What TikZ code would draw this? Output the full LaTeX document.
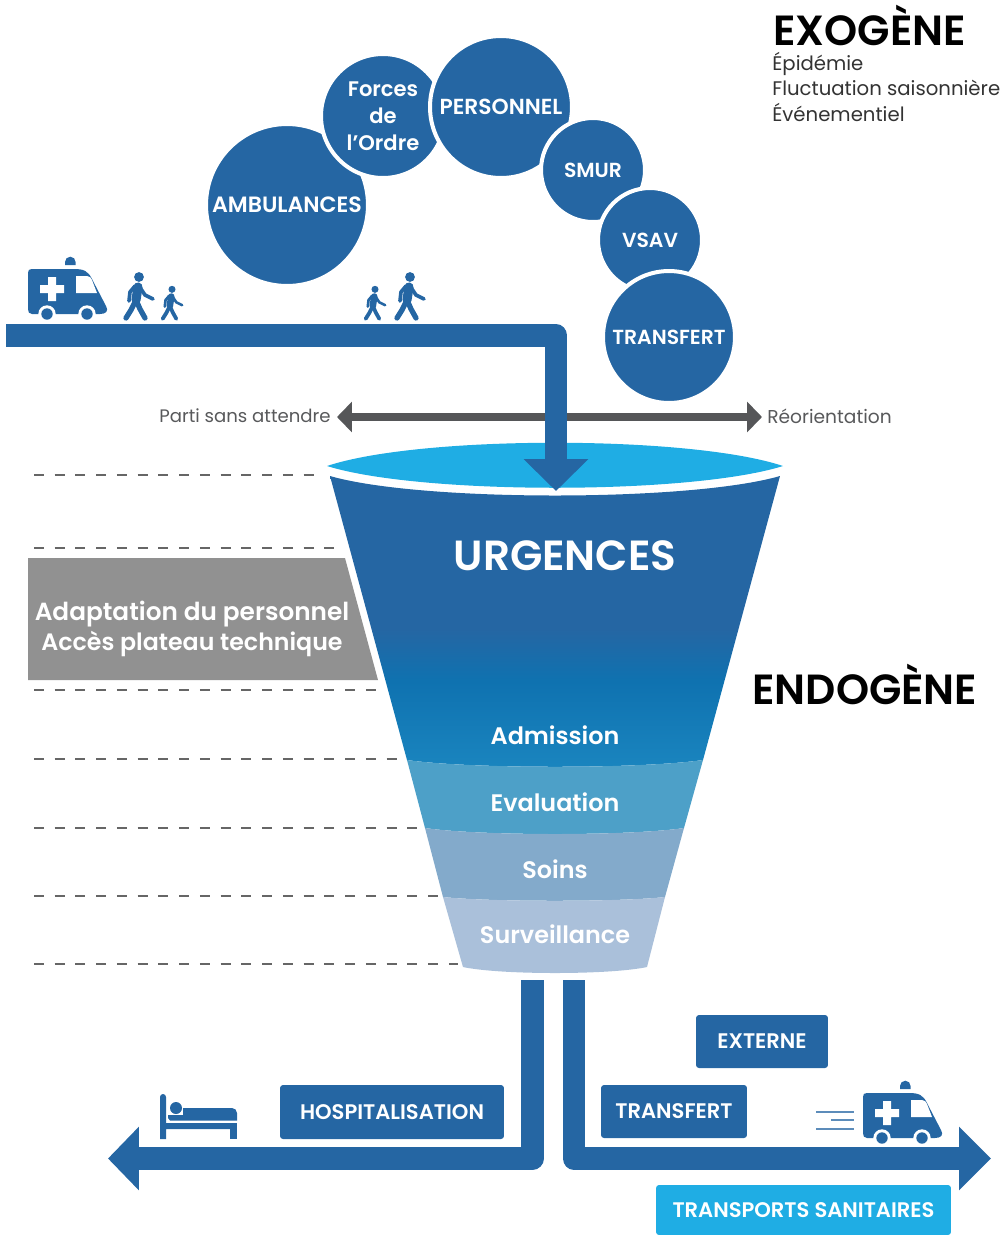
\documentclass[tikz,border=0pt]{standalone}
\usepackage{fontspec}
\setmainfont{Poppins}[BoldFont={Poppins SemiBold}]
\usetikzlibrary{arrows.meta}
\definecolor{fluxblue}{HTML}{2566A3}
\definecolor{lakeblue}{HTML}{1FADE4}
\definecolor{arrowgrey}{HTML}{555658}
\definecolor{textgrey}{HTML}{58595B}
\definecolor{admitblue}{HTML}{1A85BF}
\definecolor{midblue}{HTML}{0F72B0}
\definecolor{evalblue}{HTML}{4DA0C8}
\definecolor{soinsblue}{HTML}{83AACB}
\definecolor{survblue}{HTML}{AAC0DA}
\pgfdeclareverticalshading{urgshade}{100bp}{
    color(0bp)=(admitblue);
    color(25bp)=(admitblue);
    color(40bp)=(midblue);
    color(49bp)=(fluxblue);
    color(75bp)=(fluxblue);
    color(100bp)=(fluxblue)}
\newcommand{\walker}[3]{
    \begin{scope}[shift={(#1,#2)},scale=#3,fluxblue,line cap=round,line join=round]
        \fill (0,-44) circle (4.9);
        \draw[line width=#3*5.2pt] (-1,-34) -- (-3,-21);
        \draw[line width=#3*3pt] (-3,-21) -- (-8,-11) -- (-13,-3);
        \draw[line width=#3*3pt] (-3,-21) -- (1,-12) -- (6,-3);
        \draw[line width=#3*2.1pt] (-4,-35) -- (-9,-29) -- (-10,-20);
        \draw[line width=#3*2.1pt] (0,-35) -- (6,-26) -- (14,-22);
    \end{scope}}
\newcommand{\ambulance}[2]{
    \begin{scope}[shift={(#1,#2)}]
        \fill[fluxblue] (37,-4) -- (37,-7) arc (180:360:5.3) -- (47.6,-4) -- cycle;
        \fill[fluxblue] (4,0) -- (46,0) .. controls (56,0) and (60,2) .. (64,10)
            -- (78,37) .. controls (81,42) and (78,45) .. (72,45)
            -- (4,45) .. controls (1,45) and (0,43) .. (0,40) -- (0,4) .. controls (0,1) and (1,0) .. (4,0) -- cycle;
        \fill[white] (48,7) -- (59,7) .. controls (62,7) and (63,9) .. (64,11) -- (69,24) -- (48,24) -- cycle;
        \fill[white] (20,8) rectangle (28,32) (12,16) rectangle (36,24);
        \foreach \wx in {19,59} {
            \fill[white] (\wx,45) circle (8.7);
            \fill[fluxblue] (\wx,45) circle (5.7);
        }
    \end{scope}}
\begin{document}
\begin{tikzpicture}[x=0.02cm,y=-0.02cm,
        bubble/.style = {circle,
            fill=fluxblue,
            draw=white,
            line width=0.08cm,
            inner sep=0pt,
            text=white,
            align=center,
            font=\bfseries\fontsize{11.6}{15.4}\selectfont
        },
        tagbox/.style = {rectangle,
            rounded corners=0.06cm,
            fill=fluxblue,
            text=white,
            inner sep=0pt,
            font=\bfseries\fontsize{12}{14}\selectfont
        },
        stage/.style = {text=white,
            font=\bfseries\fontsize{13.6}{16}\selectfont
        },
        sidetext/.style = {anchor=west,
            inner sep=0pt,
            text=textgrey,
            font=\fontsize{10.6}{13}\selectfont
        },
        flux/.style = {draw=fluxblue,
            line width=0.45cm,
            line join=round
        },
        lead/.style = {draw=black!60,
            line width=0.7pt,
            dash pattern=on 0.2cm off 0.215cm
        }]

    \useasboundingbox (0,0) rectangle (1007,1235);

    % Bubbles
    \node [bubble, minimum size=3.24cm, font=\bfseries\fontsize{12.6}{15}\selectfont] (ambulances) at (287,205) {AMBULANCES};
    \node [bubble, minimum size=2.48cm, font=\bfseries\fontsize{12}{15.4}\selectfont] (forces) at (383,116) {Forces\\de\\l’Ordre};
    \node [bubble, minimum size=2.84cm, font=\bfseries\fontsize{12.4}{15}\selectfont] (personnel) at (501,107) {PERSONNEL};
    \node [bubble, minimum size=2.08cm] (smur) at (593,170) {SMUR};
    \node [bubble, minimum size=2.08cm] (vsav) at (650,240) {VSAV};
    \node [bubble, minimum size=2.64cm] (transfertIn) at (669,337) {TRANSFERT};

    % Exogene text
    \node [anchor=west, inner sep=0pt, font=\bfseries\fontsize{24}{26}\selectfont] (exogene) at (773,25) {EXOGÈNE};
    \node [sidetext, text=black!80, font=\fontsize{11.2}{13}\selectfont] (epidemie) at (772,64) {Épidémie};
    \node [sidetext, text=black!80, font=\fontsize{11.2}{13}\selectfont] (fluctuation) at (772,88) {Fluctuation saisonnière};
    \node [sidetext, text=black!80, font=\fontsize{11.2}{13}\selectfont] (evenement) at (772,112) {Événementiel};

    % Arrival road
    \ambulance{28}{269}
    \walker{139}{321}{1}
    \walker{172}{321}{0.72}
    \walker{375}{321}{0.72}
    \walker{410}{321}{1}

    % Leaving sideways
    \node [sidetext, anchor=east, font=\fontsize{10.3}{13}\selectfont] (parti) at (331,416) {Parti sans attendre};
    \node [sidetext] (reorient) at (767,416) {Réorientation};
    \coordinate (sideL) at (337,417);
    \coordinate (sideR) at (762,417);
    \draw [draw=arrowgrey, line width=0.17cm,
        {Triangle[width=0.6cm,length=0.3cm]}-{Triangle[width=0.6cm,length=0.3cm]}]
        (sideL) -- (sideR);

    % Funnel mouth
    \fill [lakeblue] (327,466) .. controls (420,435) and (690,435) .. (783,466)
        .. controls (690,495) and (420,495) .. (327,466) -- cycle;

    % Funnel bands
    \path [shading=urgshade] (330,476) .. controls (420,502) and (690,502) .. (780,476)
        -- (703,760) .. controls (640,769) and (470,769) .. (407,760) -- cycle;
    \fill [evalblue] (407,760) .. controls (470,769) and (640,769) .. (703,760)
        -- (684,828) .. controls (630,836) and (480,836) .. (425,828) -- cycle;
    \fill [soinsblue] (425,828) .. controls (480,836) and (630,836) .. (684,828)
        -- (665,897) .. controls (620,902) and (490,902) .. (443,897) -- cycle;
    \fill [survblue] (443,897) .. controls (490,902) and (620,902) .. (665,897)
        -- (647,967) .. controls (610,975) and (500,975) .. (463,967) -- cycle;

    % Funnel text
    \node [text=white, font=\bfseries\fontsize{24}{28}\selectfont] (urgences) at (565,556) {URGENCES};
    \node [stage] (admission) at (555,735) {Admission};
    \node [stage] (evaluation) at (555,802) {Evaluation};
    \node [stage] (soins) at (555,869) {Soins};
    \node [stage] (surveillance) at (555,934) {Surveillance};
    \node [anchor=west, inner sep=0pt, font=\bfseries\fontsize{24}{26}\selectfont] (endogene) at (752,684) {ENDOGÈNE};

    % Entry arrow
    \coordinate (roadstart) at (6,335.5);
    \coordinate (roadcorner) at (556,335.5);
    \coordinate (funnelin) at (556,491);
    \draw [flux, -{Triangle[width=1.26cm,length=0.64cm]}] (roadstart) -- (roadcorner) -- (funnelin);

    % Dashed levels
    \foreach \ly/\lx in {475/322,548/345,690/383,759/403,828/422,896/440,964/458} {
        \draw [lead] (34,\ly) -- (\lx,\ly);
    }

    % Grey box
    \fill [black!43] (28,558) -- (345,558) -- (378,680) -- (28,680) -- cycle;
    \node [text=white, font=\bfseries\fontsize{14.1}{17}\selectfont] (adaptation) at (192,614) {Adaptation du personnel};
    \node [text=white, font=\bfseries\fontsize{13.5}{17}\selectfont] (plateau) at (192,644) {Accès plateau technique};

    % Exit boxes
    \node [tagbox, minimum width=2.64cm, minimum height=1.06cm] (externe) at (762,1041.5) {EXTERNE};
    \node [tagbox, minimum width=4.48cm, minimum height=1.08cm] (hospital) at (392,1112) {HOSPITALISATION};
    \node [tagbox, minimum width=2.92cm, minimum height=1.06cm] (transfertOut) at (674,1111.5) {TRANSFERT};
    \node [tagbox, fill=lakeblue, minimum width=5.9cm, minimum height=1cm] (transports) at (803.5,1210) {TRANSPORTS SANITAIRES};

    % Exit arrows
    \coordinate (exitLtop) at (532.5,980);
    \coordinate (exitLcorner) at (532.5,1158.5);
    \coordinate (exitLend) at (108,1158.5);
    \coordinate (exitRtop) at (574,980);
    \coordinate (exitRcorner) at (574,1158.5);
    \coordinate (exitRend) at (991,1158.5);
    \draw [flux, -{Triangle[width=1.24cm,length=0.62cm]}] (exitLtop) -- (exitLcorner) -- (exitLend);
    \draw [flux, -{Triangle[width=1.24cm,length=0.64cm]}] (exitRtop) -- (exitRcorner) -- (exitRend);

    % Bed
    \fill [fluxblue] (160,1097) arc (180:360:3) -- (166,1123) -- (230,1123) -- (230,1129) -- (166,1129) -- (166,1139) -- (160,1139) -- cycle;
    \fill [fluxblue] (230,1123) rectangle (237,1139);
    \fill [fluxblue] (176,1108) circle (6);
    \fill [fluxblue] (183,1108) -- (232,1108) arc (-90:0:5) -- (237,1120.5) -- (170,1120.5) -- (168,1118) -- (168,1115) -- (183,1115) -- cycle;

    % Leaving ambulance
    \ambulance{863}{1093}
    \draw [draw=fluxblue!75, line width=0.9pt] (816,1112) -- (854,1112);
    \draw [draw=fluxblue!75, line width=0.9pt] (831,1120) -- (854,1120);
    \draw [draw=fluxblue!75, line width=0.9pt] (816,1129) -- (854,1129);

\end{tikzpicture}
\end{document}
